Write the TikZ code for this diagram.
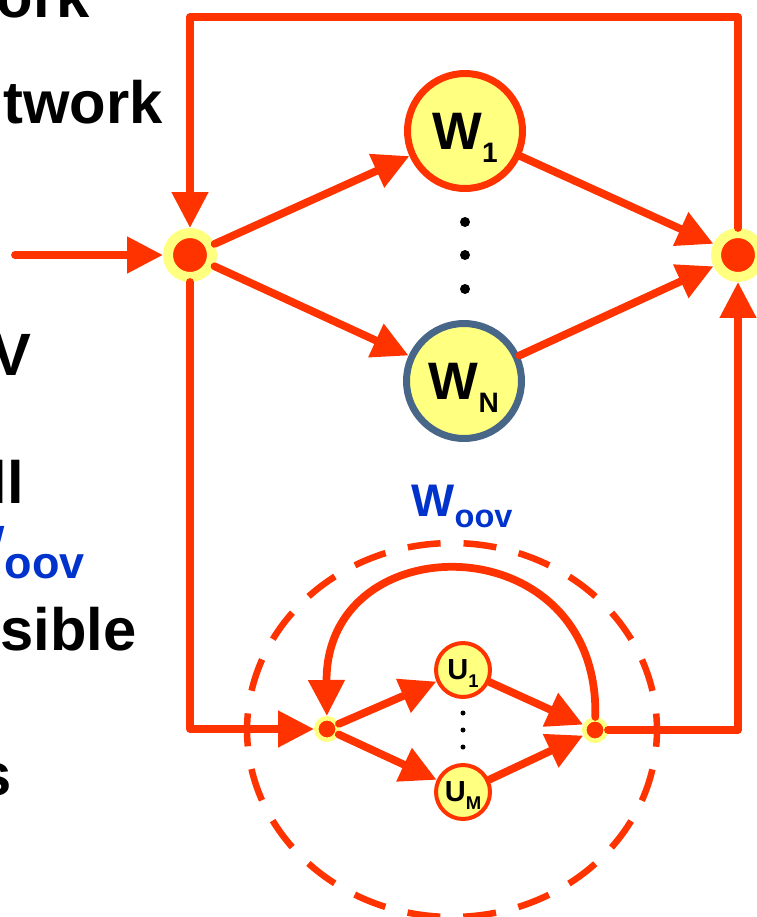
\documentclass[tikz,border=0pt]{standalone}
\usepackage{fontspec}
\setmainfont{Liberation Sans}
\usetikzlibrary{arrows.meta}

\definecolor{flowred}{RGB}{255,51,0}
\definecolor{nodeyellow}{RGB}{255,255,128}
\definecolor{slateblue}{RGB}{72,102,135}
\definecolor{oovblue}{RGB}{0,51,204}

\begin{document}
\begin{tikzpicture}[x=0.02cm,y=-0.02cm,line cap=round,line join=round,
  flow/.style={flowred, line width=0.155cm, -{Triangle[length=0.72cm,width=0.7cm]}},
  junction/.style={circle, fill=flowred, draw=nodeyellow, line width=0.2cm, minimum size=0.88cm, inner sep=0pt},
  smalljunction/.style={circle, fill=flowred, draw=nodeyellow, line width=0.09cm, minimum size=0.43cm, inner sep=0pt},
  word/.style={circle, fill=nodeyellow, line width=0.14cm, minimum size=2.3cm, inner sep=0pt, text depth=0pt,
    font=\fontsize{30}{30}\selectfont\bfseries},
  unit/.style={circle, fill=nodeyellow, draw=flowred, line width=0.08cm, minimum size=1.08cm, inner sep=0pt, text depth=0pt,
    font=\fontsize{16.5}{16.5}\selectfont\bfseries},
  bullet/.style={anchor=base east, inner sep=0pt, font=\fontsize{34}{40}\selectfont\bfseries}]
  \useasboundingbox (0,0) rectangle (757,917);

  % cut-off slide text
  \node[bullet] (ork) at (90,17) {ork};
  \node[bullet] (twork) at (163,123) {twork};
  \node[bullet] (v) at (32,375) {V};
  \node[bullet] (ll) at (24,503) {ll};
  \node[bullet, text=oovblue] (woov) at (85,567) {W\raisebox{-0.22cm}{\fontsize{25.6}{26}\selectfont oov}};
  \node[bullet] (sible) at (137,650) {sible};
  \node[bullet] (s) at (12,795) {s};

  % word network
  \node[junction] (jl) at (190,255) {};
  \node[junction] (jr) at (738,255) {};
  \node[word, draw=flowred] (w1) at (465,131) {W\raisebox{-0.26cm}{\fontsize{16}{16}\selectfont 1}};
  \node[word, draw=slateblue] (wn) at (464,381) {W\raisebox{-0.26cm}{\fontsize{16}{16}\selectfont N}};
  \foreach \y in {222,255,289}{
    \fill[black] (465,\y) circle (0.1cm);
  }

  \coordinate (input) at (15,255);
  \coordinate (topleft) at (190,17);
  \coordinate (topright) at (738,17);

  \draw[flow] (input) -- (jl);
  \draw[flow] (jl) -- (w1);
  \draw[flow] (jl) -- (wn);
  \draw[flow] (w1) -- (jr);
  \draw[flow] (wn) -- (jr);
  \draw[flow] (jr) -- (topright) -- (topleft) -- (jl);

  % oov sub-network
  \draw[flowred, line width=0.13cm, line cap=butt, dash pattern=on 0.66cm off 0.46cm, dash phase=0.33cm]
    (452,730) ellipse [x radius=4.1cm, y radius=3.74cm];
  \node[anchor=base, inner sep=0pt, text=oovblue, font=\fontsize{26}{26}\selectfont\bfseries] (oovlabel)
    at (462,516) {W\raisebox{-0.22cm}{\fontsize{18.5}{19}\selectfont oov}};

  \node[smalljunction] (sl) at (327,729) {};
  \node[smalljunction] (sr) at (595,730) {};
  \node[unit] (u1) at (463,670) {U\raisebox{-0.15cm}{\fontsize{10.5}{10.5}\selectfont 1}};
  \node[unit] (um) at (463,792) {U\raisebox{-0.15cm}{\fontsize{10.5}{10.5}\selectfont M}};
  \foreach \y in {713,730,747}{
    \fill[black] (463,\y) circle (0.05cm);
  }

  \draw[flow] (sl) -- (u1);
  \draw[flow] (sl) -- (um);
  \draw[flow] (u1) -- (sr);
  \draw[flow] (um) -- (sr);
  \draw[flow] (sr) .. controls (600,523) and (325,523) .. (sl);

  \draw[flow] (jl) -- (jl |- sl) -- (sl);
  \draw[flow] (sr) -- (sr -| jr) -- (jr);
\end{tikzpicture}
\end{document}
